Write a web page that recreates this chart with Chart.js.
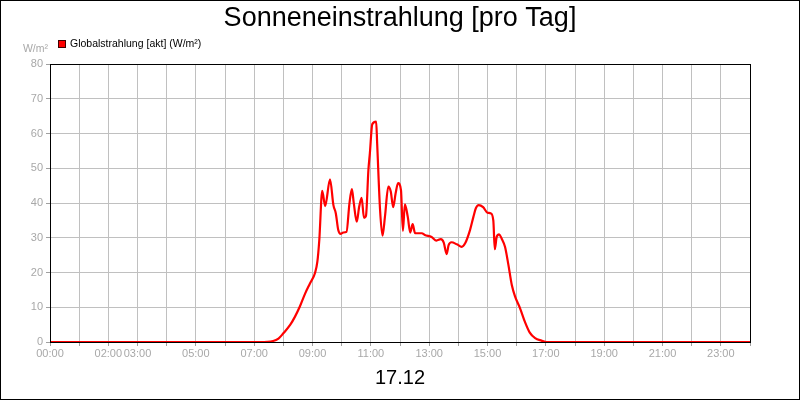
<!DOCTYPE html>
<html>
<head>
<meta charset="utf-8">
<script src="https://cdn.jsdelivr.net/npm/chart.js@4/dist/chart.umd.min.js"></script>
<style>
  html, body { margin: 0; padding: 0; background: #fff; }
  #wrap { width: 800px; height: 400px; }
</style>
</head>
<body>
<div id="wrap"><canvas id="myChart" width="800" height="400"></canvas></div>
<script>
// minutes since midnight
var times = [0, 432, 459, 470, 480, 494, 504, 514, 525, 535, 545, 550, 554, 560, 566, 576,
  583, 588, 593, 598, 603, 610, 616, 621, 625, 631, 636, 641, 646, 650, 655, 658, 663, 671,
  673, 679, 684, 689, 696, 701, 706, 711, 716, 722, 726, 730, 736, 741, 746, 751, 765, 771,
  785, 795, 804, 810, 816, 820, 826, 837, 847, 854, 864, 871, 876, 882, 891, 900, 907, 912,
  915, 919, 924, 929, 936, 943, 950, 957, 967, 977, 987, 998, 1011, 1022, 1440];

// W/m²
var globalstrahlung = [0, 0, 0.3, 1, 2.5, 4.9, 7.3, 10.2, 14, 16.9, 19.8, 23.1, 29.4, 43.5, 39.1, 46.8,
  39.4, 37, 32.2, 31.1, 31.5, 31.7, 39.9, 44, 39.9, 34.6, 38.9, 41.5, 35.7, 36.3, 49.5, 54.3, 62.7, 63.4,
  57.2, 38, 30.6, 36, 44.7, 43.3, 38.8, 42.8, 45.7, 43.7, 32, 39.6, 36, 31.5, 33.9, 31.3, 31.3, 30.8,
  30.2, 29.2, 29.6, 28.6, 25.3, 27.9, 28.7, 28.1, 27.4, 28.4, 32.2, 36, 38.5, 39.4, 38.8, 37.2, 37, 34.9,
  26.7, 30.3, 31, 29.8, 27.4, 22.2, 16.4, 13, 9.7, 5.8, 2.7, 1.1, 0.4, 0, 0];

var labeledHours = [0, 2, 3, 5, 7, 9, 11, 13, 15, 17, 19, 21, 23];
var yTicks = [0, 10, 20, 30, 40, 50, 60, 70, 80];

var seriesName = "Globalstrahlung [akt] (W/m²)";
var unit = "W/m²";
var day = "17.12";

var points = times.map(function (t, i) { return { x: t, y: globalstrahlung[i] }; });

var fontFamily = "'Liberation Sans', Arial, sans-serif";
var grey = "#a8a8a8";

// frame, legend and unit label
var extras = {
  id: "extras",
  afterDraw: function (chart) {
    var ctx = chart.ctx;
    var a = chart.chartArea;
    ctx.save();
    ctx.strokeStyle = "#000";
    ctx.lineWidth = 1;
    ctx.strokeRect(Math.round(a.left) + 0.5, Math.round(a.top) + 0.5,
      Math.round(a.right - a.left), Math.round(a.bottom - a.top));
    ctx.strokeRect(0.5, 0.5, 799, 399);

    ctx.fillStyle = "#ff0000";
    ctx.fillRect(58, 40, 8, 8);
    ctx.strokeStyle = "#400000";
    ctx.strokeRect(58.5, 40.5, 7, 7);
    ctx.fillStyle = "#000";
    ctx.font = "10.5px " + fontFamily;
    ctx.textBaseline = "middle";
    ctx.textAlign = "left";
    ctx.fillText(seriesName, 70, 44.5);

    ctx.fillStyle = grey;
    ctx.textAlign = "right";
    ctx.fillText(unit, 48, 49.5);
    ctx.restore();
  }
};

new Chart(document.getElementById("myChart"), {
  type: "line",
  data: {
    datasets: [{
      label: seriesName,
      data: points,
      borderColor: "#ff0000",
      backgroundColor: "#ff0000",
      borderWidth: 2.2,
      pointRadius: 0,
      cubicInterpolationMode: "monotone",
      fill: false
    }]
  },
  options: {
    responsive: false,
    animation: false,
    layout: { padding: 0 },
    plugins: {
      legend: { display: false },
      tooltip: { enabled: false },
      title: {
        display: true,
        text: "Sonneneinstrahlung [pro Tag]",
        color: "#000",
        font: { family: fontFamily, size: 27, weight: "normal", lineHeight: 1.2 },
        padding: { top: 2, bottom: 29.6 }
      }
    },
    scales: {
      x: {
        type: "linear",
        min: 0,
        max: 1440,
        afterFit: function (scale) { scale.height = 58; },
        afterBuildTicks: function (scale) {
          var t = [];
          for (var h = 0; h <= 24; h++) t.push({ value: h * 60 });
          scale.ticks = t;
        },
        ticks: {
          autoSkip: false,
          maxRotation: 0,
          padding: 1,
          color: grey,
          font: { family: fontFamily, size: 11 },
          callback: function (v) {
            var h = Math.round(v / 60);
            if (labeledHours.indexOf(h) < 0) return "";
            return (h < 10 ? "0" : "") + h + ":00";
          }
        },
        grid: { color: "#c0c0c0", tickColor: "#a0a0a0", tickLength: 4 },
        border: { color: "#000", width: 1 },
        title: {
          display: true,
          text: day,
          color: "#000",
          font: { family: fontFamily, size: 20, lineHeight: 1.2 },
          padding: { top: 0, bottom: 10 }
        }
      },
      y: {
        min: 0,
        max: 80,
        afterFit: function (scale) { scale.width = 50; },
        afterBuildTicks: function (scale) {
          scale.ticks = yTicks.map(function (v) { return { value: v }; });
        },
        ticks: {
          padding: 3,
          color: grey,
          font: { family: fontFamily, size: 11 }
        },
        grid: { color: "#c0c0c0", tickColor: "#a0a0a0", tickLength: 4 },
        border: { color: "#000", width: 1 }
      },
      // empty right margin so the title stays centred on the page
      yRight: {
        position: "right",
        min: 0,
        max: 80,
        afterFit: function (scale) { scale.width = 50; },
        ticks: { display: false },
        grid: { display: false, drawTicks: false },
        border: { display: false }
      }
    }
  },
  plugins: [extras]
});
</script>
</body>
</html>
